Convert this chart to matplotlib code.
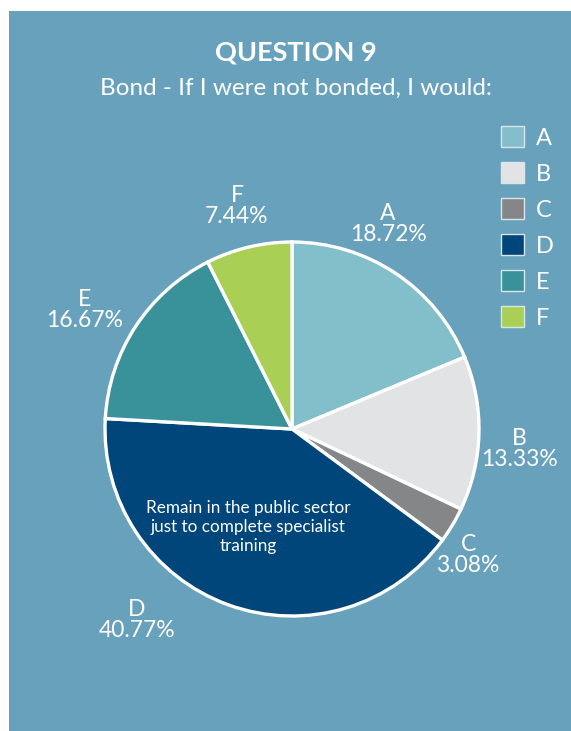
import matplotlib
matplotlib.use("Agg")
import matplotlib.pyplot as plt
from matplotlib.patches import Patch, Rectangle

categories = ["A", "B", "C", "D", "E", "F"]
values = [18.72, 13.33, 3.08, 40.77, 16.67, 7.44]
colors = ["#82bfca", "#e2e3e5", "#858687", "#00467a", "#39929a", "#a9cf54"]
title = "QUESTION 9"
subtitle = "Bond - If I were not bonded, I would:"
note = "Remain in the public sector\njust to complete specialist\ntraining"

W, H = 571, 731
BG = "#67a1bb"
plt.rcParams['font.family'] = ['Lato', 'DejaVu Sans']

fig = plt.figure(figsize=(W / 100, H / 100), dpi=100)
fig.patch.set_facecolor("white")
fig.patches.append(Rectangle((9 / W, 0), 1, 1 - 11 / H, transform=fig.transFigure,
                             facecolor=BG, edgecolor="none", zorder=-10))

cx, cy, r = 292, 429, 187
ax = fig.add_axes([(cx - r) / W, (H - cy - r) / H, 2 * r / W, 2 * r / H])
ax.set_zorder(1)
ax.set_facecolor("none")
wedges, _ = ax.pie(values, colors=colors, startangle=90, counterclock=False,
                   wedgeprops=dict(edgecolor="white", linewidth=2.4))
for w in wedges:
    w.set_clip_on(False)
ax.set_xlim(-1, 1)
ax.set_ylim(-1, 1)
ax.axis("off")

def px(x, y):
    return x / W, 1 - y / H

# percentage labels
label_pos = {"A": (388, 224), "B": (519, 449), "C": (468, 555),
             "D": (137, 620), "E": (85, 310), "F": (237, 206)}
for c, v in zip(categories, values):
    x, y = label_pos[c]
    fig.text(*px(x, y), f"{c}\n{v:.2f}%", ha="center", va="center",
             color="white", fontsize=16.5, linespacing=0.95, zorder=5)

ax.text(*ax.transAxes.inverted().transform(fig.transFigure.transform(px(248, 527))),
        note, transform=ax.transAxes, ha="center", va="center", color="white",
        fontsize=12.3, linespacing=1.2, zorder=5)

fig.text(*px(296, 52), title, ha="center", va="center", color="white",
         fontsize=19.5, fontweight="bold")
fig.text(*px(296, 88), subtitle, ha="center", va="center", color="white",
         fontsize=17.5)

handles = [Patch(facecolor=col, edgecolor="#d8e6ec", linewidth=1) for col in colors]
leg = fig.legend(handles, categories, loc="upper left",
                 bbox_to_anchor=px(480, 105), frameon=False,
                 fontsize=17, labelcolor="white", handlelength=0.95,
                 handleheight=0.95, handletextpad=0.5, labelspacing=0.58)

fig.savefig("out.png", dpi=100, facecolor=fig.get_facecolor())
